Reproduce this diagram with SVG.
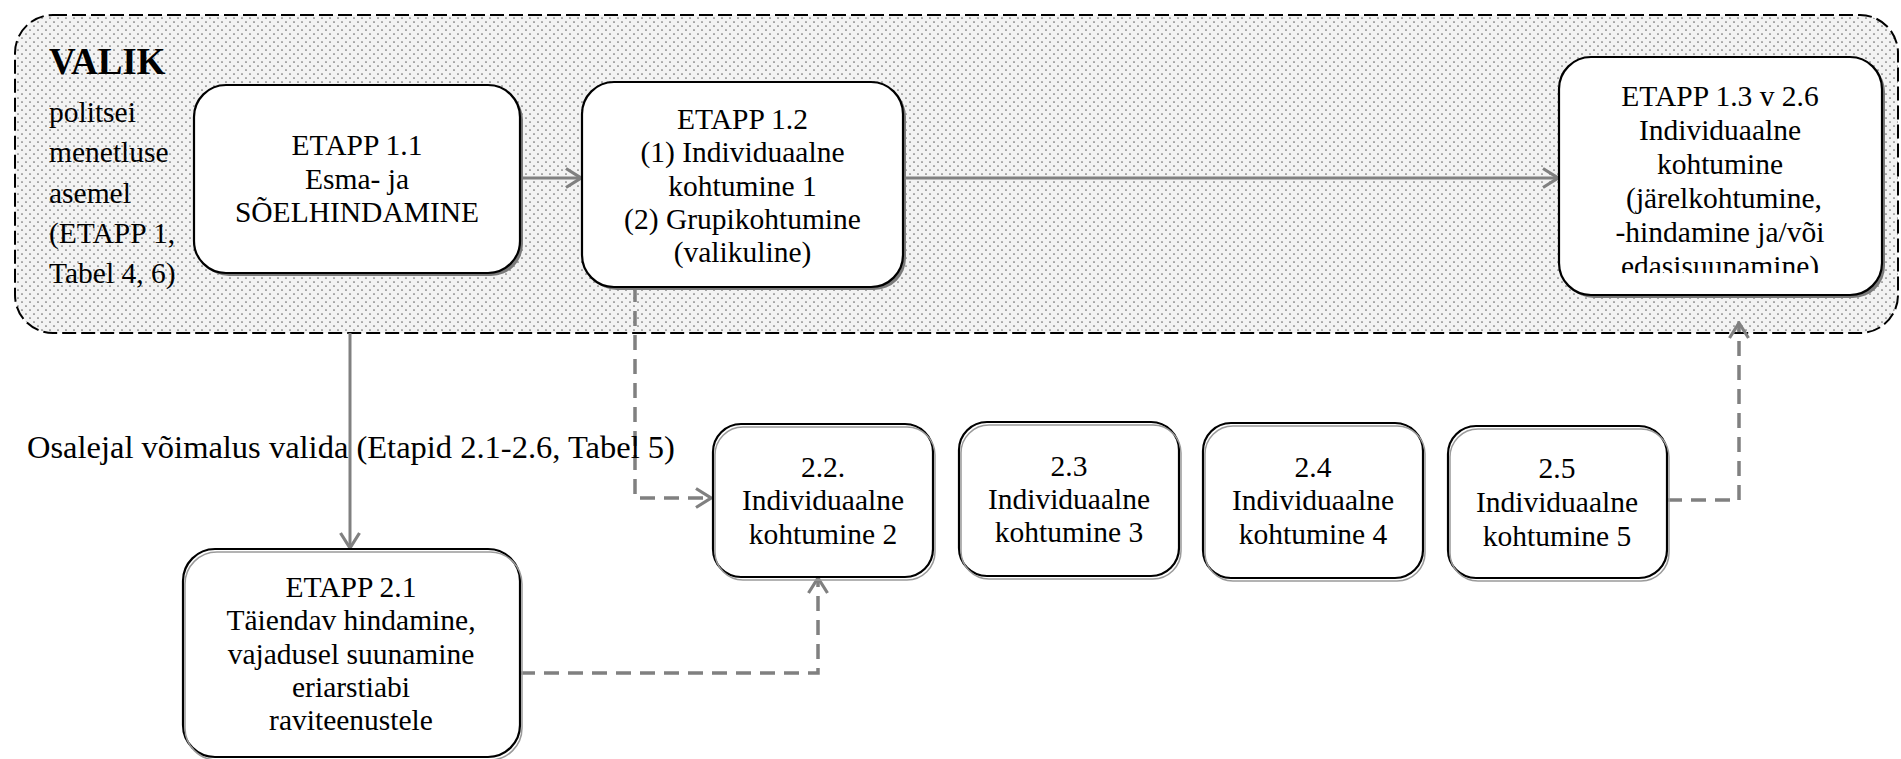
<svg xmlns="http://www.w3.org/2000/svg" width="1901" height="759" viewBox="0 0 1901 759">
<defs>
<pattern id="dots" x="0" y="0" width="8" height="8" patternUnits="userSpaceOnUse">
<rect width="8" height="8" fill="#f3f3f3"/>
<circle cx="2" cy="2" r="0.85" fill="#6a6a6a"/>
<circle cx="6" cy="6" r="0.85" fill="#6a6a6a"/>
</pattern>
<marker id="arr" viewBox="-18 -12 20 24" markerWidth="20" markerHeight="24" refX="0" refY="0" markerUnits="userSpaceOnUse" orient="auto">
<path d="M-15,-9.5 L0,0 L-15,9.5" fill="none" stroke="#808080" stroke-width="3.2"/>
</marker>
<clipPath id="clip13"><rect x="1559" y="57" width="323" height="216"/></clipPath>
</defs>
<style>
.t{font-family:"Liberation Serif","Times New Roman",serif;font-size:29.5px;fill:#000;text-anchor:middle}
.l{font-family:"Liberation Serif","Times New Roman",serif;font-size:29.5px;fill:#000}
.box{fill:#fff;stroke:#000;stroke-width:2.2}
.sh{fill:#7a7a7a;stroke:none}
.sh2{fill:none;stroke:#9a9a9a;stroke-width:1.5}
.solid{fill:none;stroke:#808080;stroke-width:3}
.dash{fill:none;stroke:#808080;stroke-width:3.5;stroke-dasharray:15 9}
</style>
<rect width="1901" height="759" fill="#fff"/>

<g id="container">
<rect x="15" y="15" width="1883" height="318" rx="38" ry="38" fill="url(#dots)" stroke="#000" stroke-width="2" stroke-dasharray="14 5"/>
<text class="l" x="49" y="74" style="font-weight:bold;font-size:37px">VALIK</text>
<text class="l" x="49" y="122">politsei</text>
<text class="l" x="49" y="162">menetluse</text>
<text class="l" x="49" y="203">asemel</text>
<text class="l" x="49" y="243">(ETAPP 1,</text>
<text class="l" x="49" y="283">Tabel 4, 6)</text>
</g>

<g id="connectors">
<line class="solid" x1="520" y1="178" x2="581" y2="178" marker-end="url(#arr)"/>
<line class="solid" x1="903" y1="178" x2="1558" y2="178" marker-end="url(#arr)"/>
<line class="solid" x1="350" y1="333" x2="350" y2="548" marker-end="url(#arr)"/>
<path class="dash" d="M635,287 L635,498 L711,498" marker-end="url(#arr)"/>
<path class="dash" d="M520,673 L818,673 L818,578" marker-end="url(#arr)"/>
<path class="dash" d="M1667,500 L1739,500 L1739,323" marker-end="url(#arr)"/>
</g>

<g id="label">
<text class="l" x="27" y="458" style="font-size:32.5px">Osalejal võimalus valida (Etapid 2.1-2.6, Tabel 5)</text>
</g>

<g id="n11">
<rect class="sh" x="197" y="88" width="326" height="188" rx="32"/>
<rect class="box" x="194" y="85" width="326" height="188" rx="32"/>
<text class="t" x="357" y="155">ETAPP 1.1</text>
<text class="t" x="357" y="189">Esma- ja</text>
<text class="t" x="357" y="222">SÕELHINDAMINE</text>
</g>

<g id="n12">
<rect class="sh" x="585" y="85" width="321" height="205" rx="32"/>
<rect class="box" x="582" y="82" width="321" height="205" rx="32"/>
<text class="t" x="742.5" y="129">ETAPP 1.2</text>
<text class="t" x="742.5" y="162">(1) Individuaalne</text>
<text class="t" x="742.5" y="196">kohtumine 1</text>
<text class="t" x="742.5" y="229">(2) Grupikohtumine</text>
<text class="t" x="742.5" y="262">(valikuline)</text>
</g>

<g id="n13">
<rect class="sh" x="1562" y="60" width="323" height="238" rx="32"/>
<rect class="box" x="1559" y="57" width="323" height="238" rx="32"/>
<g clip-path="url(#clip13)">
<text class="t" x="1720" y="106">ETAPP 1.3 v 2.6</text>
<text class="t" x="1720" y="140">Individuaalne</text>
<text class="t" x="1720" y="174">kohtumine</text>
<text class="t" x="1724" y="208">(järelkohtumine,</text>
<text class="t" x="1720" y="242">-hindamine ja/või</text>
<text class="t" x="1720" y="276">edasisuunamine)</text>
</g>
</g>

<g id="n21">
<rect class="box" x="183" y="549" width="337" height="208" rx="32"/>
<rect class="sh2" x="185" y="552" width="337" height="208" rx="32"/>
<text class="t" x="351" y="597">ETAPP 2.1</text>
<text class="t" x="351" y="630">Täiendav hindamine,</text>
<text class="t" x="351" y="664">vajadusel suunamine</text>
<text class="t" x="351" y="697">eriarstiabi</text>
<text class="t" x="351" y="730">raviteenustele</text>
</g>

<g id="n22">
<rect class="box" x="713" y="424" width="220" height="153" rx="28"/>
<rect class="sh2" x="715" y="427" width="220" height="153" rx="28"/>
<text class="t" x="823" y="477">2.2.</text>
<text class="t" x="823" y="510">Individuaalne</text>
<text class="t" x="823" y="544">kohtumine 2</text>
</g>

<g id="n23">
<rect class="box" x="959" y="422" width="220" height="154" rx="28"/>
<rect class="sh2" x="961" y="425" width="220" height="154" rx="28"/>
<text class="t" x="1069" y="476">2.3</text>
<text class="t" x="1069" y="509">Individuaalne</text>
<text class="t" x="1069" y="542">kohtumine 3</text>
</g>

<g id="n24">
<rect class="box" x="1203" y="423" width="220" height="155" rx="28"/>
<rect class="sh2" x="1205" y="426" width="220" height="155" rx="28"/>
<text class="t" x="1313" y="477">2.4</text>
<text class="t" x="1313" y="510">Individuaalne</text>
<text class="t" x="1313" y="544">kohtumine 4</text>
</g>

<g id="n25">
<rect class="box" x="1448" y="426" width="219" height="152" rx="28"/>
<rect class="sh2" x="1450" y="429" width="219" height="152" rx="28"/>
<text class="t" x="1557" y="478">2.5</text>
<text class="t" x="1557" y="512">Individuaalne</text>
<text class="t" x="1557" y="546">kohtumine 5</text>
</g>
</svg>
